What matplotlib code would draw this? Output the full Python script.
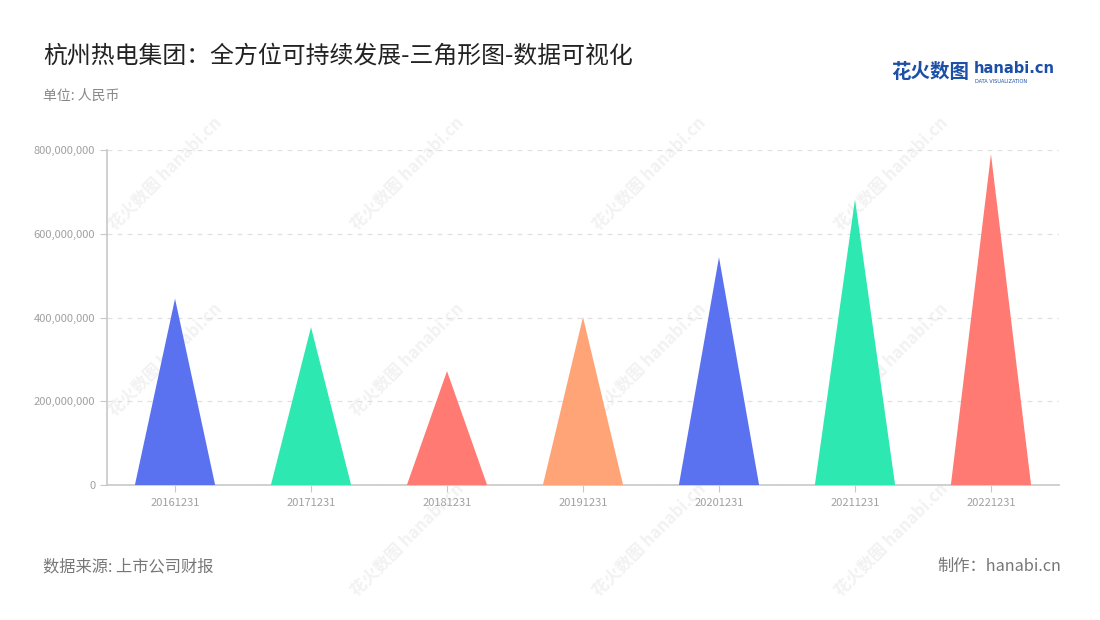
import numpy as np
import matplotlib.pyplot as plt
from matplotlib.patches import Polygon
from matplotlib.ticker import FuncFormatter

plt.rcParams['font.family'] = ['Noto Sans CJK SC', 'DejaVu Sans']

# data (RMB)
dates = ["20161231", "20171231", "20181231", "20191231",
         "20201231", "20211231", "20221231"]
values = [445e6, 377e6, 272e6, 401e6, 544e6, 682e6, 790e6]
colors = ["#5a72ef", "#2de8b0", "#ff7a72", "#ffa476",
          "#5a72ef", "#2de8b0", "#ff7a72"]
yticks = [0, 200e6, 400e6, 600e6, 800e6]

fig = plt.figure(figsize=(11, 6.2), dpi=100)
ax = fig.add_axes([0.0973, 0.2177, 0.8654, 0.5403])
ax.set_zorder(2)

# faint watermarks, behind the plot
for fx, fy in [(0.15, 0.72), (0.37, 0.72), (0.59, 0.72), (0.81, 0.72),
               (0.15, 0.42), (0.37, 0.42), (0.59, 0.42), (0.81, 0.42),
               (0.37, 0.13), (0.59, 0.13), (0.81, 0.13)]:
    fig.text(fx, fy, "花火数图 hanabi.cn", rotation=45, fontsize=12,
             color="#f2f2f2", ha="center", va="center", fontweight="bold",
             zorder=-1)

half = 0.295
for i, (v, c) in enumerate(zip(values, colors)):
    tri = Polygon([(i - half, 0), (i, v), (i + half, 0)], closed=True,
                  facecolor=c, edgecolor="none", zorder=3)
    ax.add_patch(tri)

ax.set_xlim(-0.5, len(dates) - 0.5)
ax.set_ylim(0, 800e6)
ax.set_xticks(range(len(dates)))
ax.set_xticklabels(dates)
ax.set_yticks(yticks)
ax.yaxis.set_major_formatter(FuncFormatter(lambda v, p: f"{int(v):,}"))
ax.tick_params(axis="both", colors="#c8c8c8", labelcolor="#a0a0a0",
               labelsize=8, length=5)
ax.tick_params(axis="x", pad=4)
ax.grid(axis="y", linestyle=(0, (4, 4)), color="#e0e0e0", linewidth=0.9)
ax.set_axisbelow(True)
for s in ["top", "right"]:
    ax.spines[s].set_visible(False)
for s in ["left", "bottom"]:
    ax.spines[s].set_color("#c8c8c8")
    ax.spines[s].set_linewidth(1.2)
ax.patch.set_alpha(0)

# titles and notes
fig.text(0.039, 0.91, "杭州热电集团：全方位可持续发展-三角形图-数据可视化",
         fontsize=17.2, color="#222222", va="center")
fig.text(0.039, 0.845, "单位: 人民币", fontsize=10, color="#888888",
         va="center")
fig.text(0.039, 0.086, "数据来源: 上市公司财报", fontsize=11.7,
         color="#777777", va="center")
fig.text(0.965, 0.086, "制作：hanabi.cn", fontsize=11.7, color="#777777",
         va="center", ha="right")

# logo
fig.text(0.81, 0.883, "花火数图", fontsize=14, color="#1c4fa8",
         fontweight="bold", va="center")
fig.text(0.885, 0.889, "hanabi.cn", fontsize=10.5, color="#1c4fa8",
         fontweight="bold", va="center", family="DejaVu Sans")
fig.text(0.886, 0.868, "DATA VISUALIZATION", fontsize=3.6, color="#1c4fa8",
         va="center", family="DejaVu Sans")

fig.savefig("out.png", dpi=100)
